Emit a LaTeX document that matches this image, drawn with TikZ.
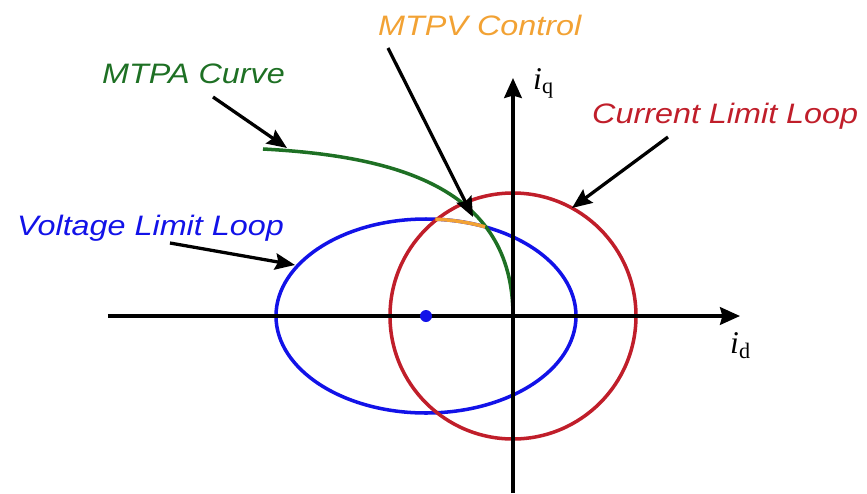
\documentclass[tikz,border=0pt]{standalone}
\usepackage{fontspec}
\newfontfamily\lblfont{Liberation Sans}[FakeStretch=1.15]
\newfontfamily\axfont{Liberation Serif}
\usetikzlibrary{arrows.meta}
\definecolor{mtpagreen}{RGB}{30,112,36}
\definecolor{vblue}{RGB}{18,18,232}
\definecolor{cred}{RGB}{192,30,42}
\definecolor{mtpvorange}{RGB}{242,162,52}
\tikzset{
  curve/.style={line width=3pt},
  axis/.style={line width=3pt,-{Stealth[length=17pt,width=15pt,inset=2pt]}},
  pointer/.style={line width=2.8pt,-{Stealth[length=17pt,width=14pt,inset=2.5pt]}},
  lbl/.style={font=\lblfont\itshape\fontsize{24}{28}\selectfont,inner sep=0pt,anchor=base west},
  axlbl/.style={font=\axfont\fontsize{27}{30}\selectfont,inner sep=0pt,anchor=base west},
}
\begin{document}
\begin{tikzpicture}[x=0.03cm,y=0.03cm]
\useasboundingbox (-513,-177) rectangle (354,316);

% voltage limit loop and current limit loop
\draw[curve,vblue](-87,0) ellipse (150 and 97);
\draw[curve,cred](0,0) circle (123);
\draw[curve,mtpagreen](-250,167) .. controls (-120,160) and (0,130) .. (0,0);
\draw[curve,mtpvorange](-87,0) ++(86.4:150 and 97) arc[start angle=86.4, end angle=66.8, x radius=150, y radius=97];

% axes
\coordinate (dmin) at (-405,0);
\coordinate (dmax) at (227,0);
\coordinate (qmin) at (0,-177);
\coordinate (qmax) at (0,238);
\draw[axis](dmin)--(dmax);
\draw[axis](qmin)--(qmax);
\node[axlbl] (id) at (217,-37) {\textit{i}\textsubscript{d}};
\node[axlbl] (iq) at (20,227) {\textit{i}\textsubscript{q}};
\fill[vblue](-87,0) circle (6);

% labels
\node[lbl,text=mtpagreen] (mtpa) at (-411,233) {MTPA Curve};
\node[lbl,text=vblue] (vlimit) at (-496,81) {Voltage Limit Loop};
\node[lbl,text=cred] (climit) at (79,193) {Current Limit Loop};
\node[lbl,text=mtpvorange] (mtpv) at (-135,281) {MTPV Control};

% pointers
\coordinate (mtpafrom) at (-300,219);
\coordinate (mtpato) at (-226,168);
\coordinate (mtpvfrom) at (-125,268);
\coordinate (mtpvto) at (-40,99);
\coordinate (cfrom) at (155,179);
\coordinate (cto) at (59,108);
\coordinate (vfrom) at (-343,73);
\coordinate (vto) at (-218,51);
\draw[pointer](mtpafrom)--(mtpato);
\draw[pointer](mtpvfrom)--(mtpvto);
\draw[pointer](cfrom)--(cto);
\draw[pointer](vfrom)--(vto);
\end{tikzpicture}
\end{document}
